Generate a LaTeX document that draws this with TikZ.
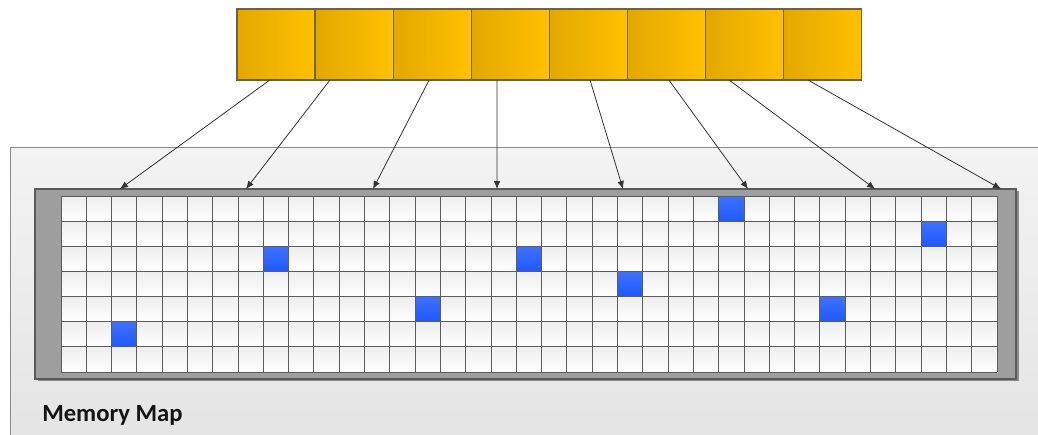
\documentclass[tikz,border=0pt]{standalone}
\usepackage{fontspec}
\newfontfamily\mapfont{Carlito}
\usepackage{tikz}
\usetikzlibrary{calc,arrows.meta}

\definecolor{slotdark}{RGB}{226,168,0}
\definecolor{slotlight}{RGB}{255,193,0}
\definecolor{slotedge}{RGB}{118,98,48}
\definecolor{paneltop}{RGB}{243,243,243}
\definecolor{panelbot}{RGB}{227,227,227}
\definecolor{framegray}{RGB}{158,158,158}
\definecolor{frameedge}{RGB}{90,90,90}
\definecolor{cellline}{RGB}{92,92,92}
\definecolor{hitblue}{RGB}{30,88,255}

\tikzset{
  slot/.style={draw=slotedge,line width=0.9pt,left color=slotdark,right color=slotlight,
    minimum width=58.5pt,minimum height=53.25pt,inner sep=0pt,outer sep=0pt},
  pointer/.style={->,draw=black!80,line width=0.6pt},
}

\begin{document}
\begin{tikzpicture}[x=0.75pt,y=-0.75pt,>={Latex[length=6pt,width=5pt]}]
  \path[use as bounding box,clip] (0,0) rectangle (1038,435);
  % panel
  \draw[draw=black!45,line width=0.6pt,top color=paneltop,bottom color=panelbot] (10,147) rectangle (1060,460);
  % frame with shadow
  \fill[black!45] (38,191) rectangle (1019,381);
  \draw[frameedge,line width=0.8pt,fill=framegray] (35,189) rectangle (1016,379);
  % cells
  \foreach \r in {0,...,6}{
    \shade[top color=black!7,bottom color=white] (61,{196+25.143*\r}) rectangle (997,{196+25.143*(\r+1)});
  }
  \foreach \c/\r in {2/5,8/2,14/4,18/2,22/3,26/0,30/4,34/1}{
    \shade[top color=hitblue!85,bottom color=hitblue] ({61+25.297*\c},{196+25.143*\r}) rectangle ({61+25.297*(\c+1)},{196+25.143*(\r+1)});
  }
  \foreach \c in {0,...,37}{
    \draw[cellline,line width=0.75pt] ({61+25.297*\c},196) -- ({61+25.297*\c},372);
  }
  \foreach \r in {0,...,7}{
    \draw[cellline,line width=0.75pt] (61,{196+25.143*\r}) -- (997,{196+25.143*\r});
  }
  % slots
  \foreach \i in {1,...,8}{
    \node[slot] (b\i) at ({237+78.1*(\i-0.5)},44.5) {};
  }
  \foreach \i/\x in {1/120,2/246,3/373,4/497,5/623,6/748,7/875,8/1001}{
    \coordinate (t\i) at (\x,189);
  }
  \foreach \i/\f in {1/0.42,2/0.19,3/0.46,4/0.33,5/0.52,6/0.53,7/0.30,8/0.31}{
    \draw[pointer] ($(b\i.south west)!\f!(b\i.south east)$) -- (t\i);
  }
  \node[anchor=base west,inner sep=0pt,font=\mapfont\bfseries\fontsize{18.5}{22}\selectfont,text=black!92] (title) at (42,421.5) {Memory Map};
\end{tikzpicture}
\end{document}
